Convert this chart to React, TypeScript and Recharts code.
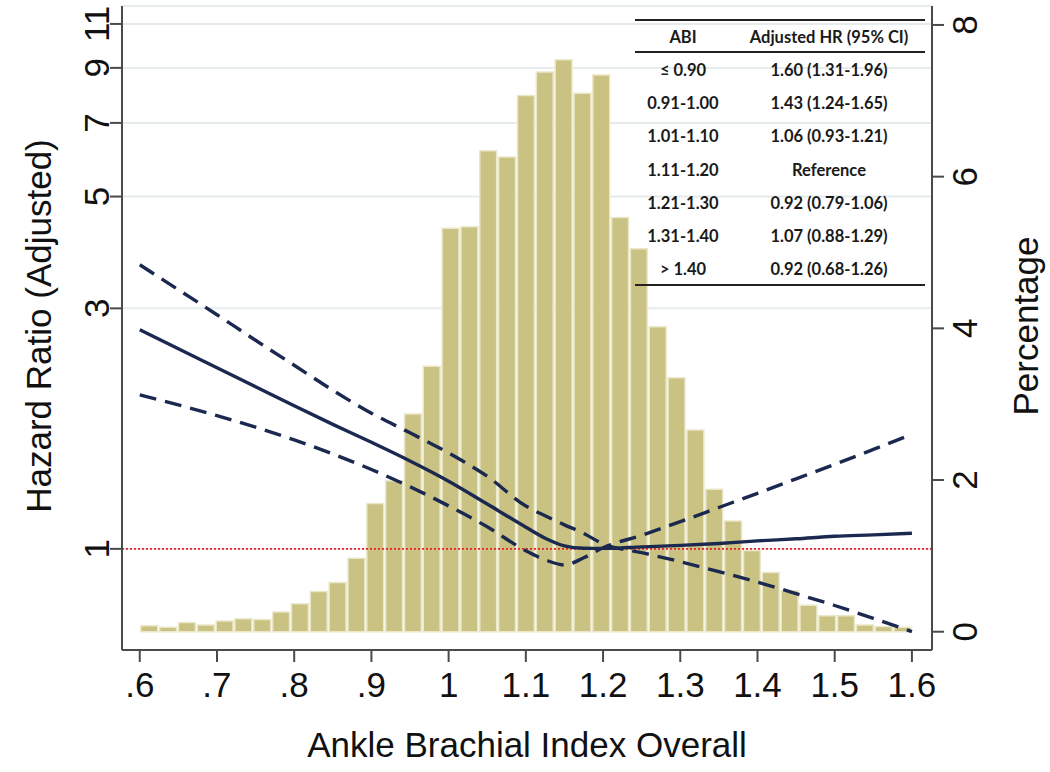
import React from 'react';
import {
  ComposedChart,
  Bar,
  Line,
  XAxis,
  YAxis,
  CartesianGrid,
  ReferenceLine,
  Label,
} from 'recharts';

// histogram bins (41 bins between 0.6 and 1.6), centre of each bin
const binCenters = [
  0.6122, 0.6366, 0.661, 0.6854, 0.7098, 0.7341, 0.7585, 0.7829, 0.8073, 0.8317,
  0.8561, 0.8805, 0.9049, 0.9293, 0.9537, 0.978, 1.0024, 1.0268, 1.0512, 1.0756,
  1.1, 1.1244, 1.1488, 1.1732, 1.1976, 1.222, 1.2463, 1.2707, 1.2951, 1.3195,
  1.3439, 1.3683, 1.3927, 1.4171, 1.4415, 1.4659, 1.4902, 1.5146, 1.539, 1.5634,
  1.5878,
];
const percentValues = [
  0.08, 0.06, 0.12, 0.09, 0.14, 0.17, 0.16, 0.26, 0.37, 0.53,
  0.65, 0.97, 1.69, 1.99, 2.87, 3.5, 5.32, 5.34, 6.34, 6.26,
  7.07, 7.38, 7.54, 7.1, 7.34, 5.46, 5.05, 4.02, 3.35, 2.66,
  1.88, 1.46, 1.07, 0.78, 0.54, 0.35, 0.21, 0.21, 0.09, 0.07,
  0.06,
];

// spline for the adjusted hazard ratio and its confidence band
const curveX = [
  0.6, 0.65, 0.7, 0.75, 0.8, 0.85, 0.9, 0.95, 1.0, 1.05, 1.1, 1.125,
  1.15, 1.175, 1.2, 1.25, 1.3, 1.35, 1.4, 1.45, 1.5, 1.55, 1.6,
];
const hrValues = [
  2.721, 2.494, 2.287, 2.097, 1.922, 1.766, 1.627, 1.494, 1.362, 1.227, 1.104, 1.05,
  1.014, 1.003, 1.002, 1.009, 1.016, 1.025, 1.037, 1.047, 1.059, 1.066, 1.074,
];
const ciUpperValues = [
  3.662, 3.267, 2.914, 2.593, 2.313, 2.064, 1.858, 1.699, 1.549, 1.393, 1.216, 1.163,
  1.116, 1.073, 1.023, 0.983, 0.943, 0.901, 0.859, 0.815, 0.772, 0.728, 0.685,
];
const ciLowerValues = [
  2.021, 1.93, 1.838, 1.743, 1.645, 1.543, 1.437, 1.328, 1.217, 1.106, 0.991, 0.951,
  0.929, 0.96, 1.005, 1.064, 1.132, 1.208, 1.289, 1.377, 1.471, 1.575, 1.688,
];

const xTicks = [0.6, 0.7, 0.8, 0.9, 1, 1.1, 1.2, 1.3, 1.4, 1.5, 1.6];
const xTickLabels = ['.6', '.7', '.8', '.9', '1', '1.1', '1.2', '1.3', '1.4', '1.5', '1.6'];
const hrTicks = [1, 3, 5, 7, 9, 11];
const pctTicks = [0, 2, 4, 6, 8];

const abiRanges = ['\u2264 0.90', '0.91-1.00', '1.01-1.10', '1.11-1.20', '1.21-1.30', '1.31-1.40', '> 1.40'];
const hrLabels = [
  '1.60 (1.31-1.96)',
  '1.43 (1.24-1.65)',
  '1.06 (0.93-1.21)',
  'Reference',
  '0.92 (0.79-1.06)',
  '1.07 (0.88-1.29)',
  '0.92 (0.68-1.26)',
];

const histData = binCenters.map((x, i) => ({ x, pct: percentValues[i] }));
const curveData = curveX.map((x, i) => ({
  x,
  hr: hrValues[i],
  upper: ciUpperValues[i],
  lower: ciLowerValues[i],
}));

const X_DOMAIN: [number, number] = [0.577, 1.626];
const FONT = '"Liberation Sans", Arial, sans-serif';
const AXIS = '#4a4a4a';
const NAVY = '#1b2850';

function XTick({ x, y, payload }: any) {
  const idx = xTicks.indexOf(payload.value);
  return (
    <text x={x} y={y + 33} textAnchor="middle" fontSize={35} fontFamily={FONT} fill="#111">
      {xTickLabels[idx] ?? String(payload.value)}
    </text>
  );
}

function LeftTick({ x, y, payload }: any) {
  const cx = x - 11;
  return (
    <text
      x={cx}
      y={y}
      transform={`rotate(-90 ${cx} ${y})`}
      textAnchor="middle"
      dominantBaseline="central"
      fontSize={35}
      fontFamily={FONT}
      fill="#111"
    >
      {payload.value}
    </text>
  );
}

function RightTick({ x, y, payload }: any) {
  const cx = x + 19;
  return (
    <text
      x={cx}
      y={y}
      transform={`rotate(-90 ${cx} ${y})`}
      textAnchor="middle"
      dominantBaseline="central"
      fontSize={35}
      fontFamily={FONT}
      fill="#111"
    >
      {payload.value}
    </text>
  );
}

function HrTable() {
  const left = 635;
  const width = 290;
  const rowTop = 53;
  const rowH = 33.2;
  const cell = (text: string, cx: number, cy: number, key: string) => (
    <div
      key={key}
      style={{
        position: 'absolute',
        left: cx - 100,
        top: cy - 11,
        width: 200,
        height: 22,
        lineHeight: '22px',
        textAlign: 'center',
        fontFamily: 'Lato, "Open Sans", sans-serif',
        fontWeight: 700,
        fontSize: 16.5,
        color: '#1a1a1a',
        whiteSpace: 'nowrap',
      }}
    >
      {text}
    </div>
  );
  return (
    <div style={{ position: 'absolute', left: 0, top: 0, pointerEvents: 'none' }}>
      <div style={{ position: 'absolute', left, top: 19, width, height: 2, background: '#222' }} />
      <div style={{ position: 'absolute', left, top: 51, width, height: 2, background: '#222' }} />
      <div style={{ position: 'absolute', left, top: 284, width, height: 2, background: '#222' }} />
      {cell('ABI', 683, 36.5, 'h1')}
      {cell('Adjusted HR (95% CI)', 829, 36.5, 'h2')}
      {abiRanges.map((r, i) => cell(r, 683, rowTop + 17 + i * rowH, `a${i}`))}
      {hrLabels.map((r, i) => cell(r, 829, rowTop + 17 + i * rowH, `b${i}`))}
    </div>
  );
}

export default function App() {
  return (
    <div style={{ position: 'absolute', left: 0, top: 0, width: 1050, height: 772, background: '#fff' }}>
      <ComposedChart
        width={1050}
        height={772}
        data={histData}
        margin={{ top: 6, right: 0, bottom: 0, left: 0 }}
      >
        <CartesianGrid
          yAxisId="left"
          vertical={false}
          stroke="#e6ecec"
          strokeWidth={2}
        />
        <XAxis
          dataKey="x"
          type="number"
          domain={X_DOMAIN}
          allowDataOverflow
          ticks={xTicks}
          interval={0}
          height={122}
          tickSize={12}
          tick={<XTick />}
          axisLine={{ stroke: AXIS, strokeWidth: 2 }}
          tickLine={{ stroke: AXIS, strokeWidth: 2 }}
        >
          <Label
            content={() => (
              <text x={527} y={757} textAnchor="middle" fontSize={35} fontFamily={FONT} fill="#111">
                Ankle Brachial Index Overall
              </text>
            )}
          />
        </XAxis>
        {/* hidden axis that only the histogram uses, so bar width comes from the bins */}
        <XAxis
          xAxisId="bins"
          dataKey="x"
          type="number"
          domain={X_DOMAIN}
          allowDataOverflow
          hide
        />
        <YAxis
          yAxisId="left"
          orientation="left"
          scale="log"
          domain={[0.63, 11.94]}
          allowDataOverflow
          ticks={hrTicks}
          interval={0}
          width={122}
          tickSize={12}
          tick={<LeftTick />}
          axisLine={{ stroke: AXIS, strokeWidth: 2 }}
          tickLine={{ stroke: AXIS, strokeWidth: 2 }}
        >
          <Label
            content={() => (
              <text
                x={38}
                y={326}
                transform="rotate(-90 38 326)"
                textAnchor="middle"
                dominantBaseline="central"
                fontSize={35}
                fontFamily={FONT}
                fill="#111"
              >
                Hazard Ratio (Adjusted)
              </text>
            )}
          />
        </YAxis>
        <YAxis
          yAxisId="right"
          orientation="right"
          type="number"
          domain={[-0.241, 8.25]}
          allowDataOverflow
          ticks={pctTicks}
          interval={0}
          width={118}
          tickSize={12}
          tick={<RightTick />}
          axisLine={{ stroke: AXIS, strokeWidth: 2 }}
          tickLine={{ stroke: AXIS, strokeWidth: 2 }}
        >
          <Label
            content={() => (
              <text
                x={1025}
                y={326}
                transform="rotate(-90 1025 326)"
                textAnchor="middle"
                dominantBaseline="central"
                fontSize={35}
                fontFamily={FONT}
                fill="#111"
              >
                Percentage
              </text>
            )}
          />
        </YAxis>
        <Bar
          xAxisId="bins"
          yAxisId="right"
          dataKey="pct"
          barSize={19}
          fill="#c9c283"
          stroke="#ebe8c9"
          strokeWidth={1.5}
          isAnimationActive={false}
        />
        <ReferenceLine yAxisId="left" y={1} stroke="#e8212b" strokeWidth={1.8} strokeDasharray="2 2" />
        <Line
          yAxisId="left"
          data={curveData}
          dataKey="upper"
          type="monotone"
          stroke={NAVY}
          strokeWidth={3.4}
          strokeDasharray="17 9"
          dot={false}
          isAnimationActive={false}
        />
        <Line
          yAxisId="left"
          data={curveData}
          dataKey="lower"
          type="monotone"
          stroke={NAVY}
          strokeWidth={3.4}
          strokeDasharray="17 9"
          dot={false}
          isAnimationActive={false}
        />
        <Line
          yAxisId="left"
          data={curveData}
          dataKey="hr"
          type="monotone"
          stroke={NAVY}
          strokeWidth={3.4}
          dot={false}
          isAnimationActive={false}
        />
      </ComposedChart>
      <HrTable />
    </div>
  );
}
